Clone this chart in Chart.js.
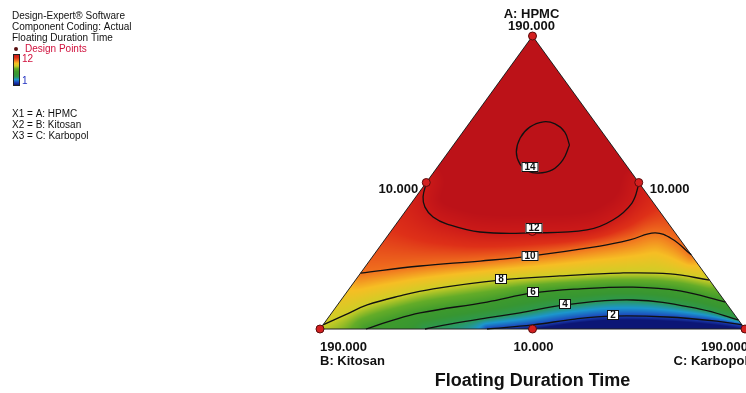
<!DOCTYPE html>
<html>
<head>
<meta charset="utf-8">
<script src="https://cdn.jsdelivr.net/npm/chart.js@4.4.1/dist/chart.umd.min.js"></script>
<style>
  html, body { margin: 0; padding: 0; background: #fff; overflow: hidden; }
  canvas { display: block; }
</style>
</head>
<body>
<canvas id="ternaryChart" width="746" height="393"></canvas>
<script>
// Components and the actual values printed at the vertices / edge midpoints
const componentNames = ['A: HPMC', 'B: Kitosan', 'C: Karbopol'];
const vertexValue = '190.000';
const midValue = '10.000';
const responseName = 'Floating Duration Time';

// Contour lines, each point is [A %, C %] (B = 100 - A - C)
const contourLevels = [14, 12, 10, 8, 6, 4, 2];
const contour14 = [[62.8, 27.3], [67.2, 24.0], [70.0, 20.3], [70.7, 17.2], [68.9, 14.9], [65.2, 14.5], [60.4, 16.0], [56.3, 18.9], [53.9, 22.0], [53.2, 24.7], [54.3, 27.5], [57.7, 28.3], [62.8, 27.3]];
const contour12 = [[50.2, 0], [45.1, 1.7], [41.6, 3.9], [38.2, 7.5], [35.8, 12.0], [33.1, 21.1], [32.8, 33.7], [33.8, 45.9], [37.2, 50.3], [43.0, 51.9], [49.8, 50.2]];
const contour10 = [[19.1, 0], [21.5, 12.8], [23.2, 26.1], [24.9, 37.0], [28.3, 51.7], [30.4, 57.7], [32.8, 62.4], [30.7, 67.5], [25.3, 74.7]];
const contour8 = [[1.4, 0], [4.8, 3.5], [8.2, 7.0], [11.3, 13.2], [13.7, 19.8], [16.7, 34.0], [18.1, 47.4], [19.1, 61.0], [18.8, 73.0], [16.7, 83.3]];
const contour6 = [[0, 10.8], [2.7, 15.1], [5.5, 20.8], [9.2, 34.7], [12.3, 44.0], [13.7, 54.4], [14.3, 66.5], [13.0, 78.2], [9.2, 90.8]];
const contour4 = [[0, 24.7], [1.7, 29.7], [3.8, 37.4], [5.5, 44.3], [8.2, 53.6], [9.9, 68.7], [6.8, 86.0], [3.1, 96.9]];
const contour2 = [[0, 39.3], [1.4, 49.4], [3.4, 58.3], [4.4, 66.7], [4.1, 79.6], [2.7, 92.0], [1.4, 98.6]];
const contourLines = [contour14, contour12, contour10, contour8, contour6, contour4, contour2];

// where the level boxes sit on each contour, [A %, C %]
const labelPoints = [[55.3, 21.8], [34.5, 33.1], [25.0, 36.9], [16.9, 34.1], [12.6, 43.9], [8.5, 53.5], [4.8, 66.6]];

// design points (A %, C %)
const designA = [100, 0, 0, 50, 50, 0, 33.3];
const designC = [0, 0, 100, 0, 50, 50, 33.3];

// colour legend range
const legendHigh = 12;
const legendLow = 1;

const FONT = '"Liberation Sans", Arial, sans-serif';

// ternary -> plot units: x along the base (B to C), y is height (A)
const toXY = ([a, c]) => ({ x: c + a / 2, y: a });

// value -> colour, red at the top of the response, blue at the bottom
const colourStops = [
    [1, [12, 22, 118]],
    [2, [28, 66, 186]],
    [3, [28, 150, 205]],
    [4, [45, 152, 78]],
    [5, [55, 150, 50]],
    [6, [62, 154, 44]],
    [7, [100, 172, 40]],
    [8, [206, 206, 38]],
    [9, [246, 190, 36]],
    [10, [240, 112, 30]],
    [11, [222, 48, 24]],
    [12, [204, 26, 24]],
    [14, [188, 18, 24]]
];

function colourAt(v) {
    if (v <= colourStops[0][0]) return colourStops[0][1];
    for (let i = 1; i < colourStops.length; i++) {
        const [v1, c1] = colourStops[i];
        if (v <= v1) {
            const [v0, c0] = colourStops[i - 1];
            const t = (v - v0) / (v1 - v0);
            return c0.map((c, k) => c + (c1[k] - c) * t);
        }
    }
    return colourStops[colourStops.length - 1][1];
}

function insidePoly(px, py, poly) {
    let inside = false;
    for (let i = 0, j = poly.length - 1; i < poly.length; j = i++) {
        const [xi, yi] = poly[i], [xj, yj] = poly[j];
        if ((yi > py) !== (yj > py) && px < (xj - xi) * (py - yi) / (yj - yi) + xi) inside = !inside;
    }
    return inside;
}

function distToLine(px, py, pts) {
    let best = Infinity;
    for (let i = 0; i < pts.length - 1; i++) {
        const [x1, y1] = pts[i], [x2, y2] = pts[i + 1];
        const dx = x2 - x1, dy = y2 - y1;
        const len = dx * dx + dy * dy;
        let t = len ? ((px - x1) * dx + (py - y1) * dy) / len : 0;
        t = Math.max(0, Math.min(1, t));
        const ex = x1 + t * dx - px, ey = y1 + t * dy - py;
        best = Math.min(best, ex * ex + ey * ey);
    }
    return Math.sqrt(best);
}

// follow the drawn (tensioned) line so the shading meets the strokes
function sampleCurve(points) {
    const out = [];
    for (let i = 0; i < points.length - 1; i++) {
        const p = points[i], q = points[i + 1];
        const c1x = p.cp2x ?? p.x, c1y = p.cp2y ?? p.y;
        const c2x = q.cp1x ?? q.x, c2y = q.cp1y ?? q.y;
        for (let s = 0; s < 10; s++) {
            const t = s / 10, u = 1 - t;
            out.push([
                u * u * u * p.x + 3 * u * u * t * c1x + 3 * u * t * t * c2x + t * t * t * q.x,
                u * u * u * p.y + 3 * u * u * t * c1y + 3 * u * t * t * c2y + t * t * t * q.y
            ]);
        }
    }
    const last = points[points.length - 1];
    out.push([last.x, last.y]);
    return out;
}

function renderField(chart) {
    const { x: sx, y: sy } = chart.scales;
    const area = chart.chartArea;
    const pix = p => { const q = toXY(p); return [sx.getPixelForValue(q.x), sy.getPixelForValue(q.y)]; };
    const pA = pix([100, 0]), pB = pix([0, 0]), pC = pix([0, 100]);
    const tri = [pA, pB, pC];

    // open contours (12 down to 2) with the region above each one
    const bands = [];
    chart.data.datasets.forEach((ds, i) => {
        if (ds.level === undefined || ds.level === 14) return;
        const meta = chart.getDatasetMeta(i);
        meta.dataset.updateControlPoints(area, 'x');
        const pts = sampleCurve(meta.data);
        const poly = pts.slice();
        poly.push(pA);
        if (ds.data[0].y === 0) poly.push(pB);
        bands.push({ level: ds.level, pts, poly });
    });
    bands.sort((a, b) => b.level - a.level);

    const W = chart.width, H = chart.height;
    const off = document.createElement('canvas');
    off.width = W; off.height = H;
    const octx = off.getContext('2d');
    const img = octx.createImageData(W, H);
    const x0 = Math.floor(area.left), x1 = Math.ceil(area.right);
    const y0 = Math.floor(area.top), y1 = Math.ceil(area.bottom);
    for (let py = y0; py <= y1 && py < H; py++) {
        for (let px = x0; px <= x1 && px < W; px++) {
            const X = px + 0.5, Y = py + 0.5;
            if (!insidePoly(X, Y, tri)) continue;
            const k = bands.findIndex(b => insidePoly(X, Y, b.poly));
            let v;
            if (k === 0) {
                const d = distToLine(X, Y, bands[0].pts);
                v = bands[0].level + 2 * Math.min(d / 18, 1);
            } else if (k === -1) {
                const last = bands[bands.length - 1];
                const d = distToLine(X, Y, last.pts);
                v = last.level - Math.min(d / 4, 1);
            } else {
                const hi = bands[k - 1], lo = bands[k];
                const dh = distToLine(X, Y, hi.pts), dl = distToLine(X, Y, lo.pts);
                v = lo.level + (hi.level - lo.level) * dl / (dl + dh);
            }
            const c = colourAt(v);
            const o = (py * W + px) * 4;
            img.data[o] = c[0]; img.data[o + 1] = c[1]; img.data[o + 2] = c[2]; img.data[o + 3] = 255;
        }
    }
    octx.putImageData(img, 0, 0);
    return off;
}

const fieldPlugin = {
    id: 'field',
    beforeDatasetsDraw(chart) {
        if (!chart.$field) chart.$field = renderField(chart);
        chart.ctx.drawImage(chart.$field, 0, 0);
    }
};

const labelPlugin = {
    id: 'levelLabels',
    afterDatasetsDraw(chart) {
        const { ctx, scales: { x, y } } = chart;
        ctx.save();
        ctx.font = 'bold 10px ' + FONT;
        ctx.textAlign = 'center';
        ctx.textBaseline = 'middle';
        labelPoints.forEach((p, i) => {
            const q = toXY(p);
            const cx = Math.round(x.getPixelForValue(q.x)), cy = Math.round(y.getPixelForValue(q.y));
            const text = String(contourLevels[i]);
            const w = Math.round(ctx.measureText(text).width) + 6, h = 10;
            ctx.fillStyle = '#fff';
            ctx.fillRect(cx - w / 2, cy - h / 2, w, h);
            ctx.strokeStyle = '#111';
            ctx.lineWidth = 1;
            ctx.strokeRect(cx - w / 2 + 0.5, cy - h / 2 + 0.5, w - 1, h - 1);
            ctx.fillStyle = '#111';
            ctx.fillText(text, cx, cy + 0.5);
        });
        ctx.restore();
    }
};

const textPlugin = {
    id: 'texts',
    afterDraw(chart) {
        const { ctx, scales: { x, y } } = chart;
        const pix = p => { const q = toXY(p); return [x.getPixelForValue(q.x), y.getPixelForValue(q.y)]; };
        const pA = pix([100, 0]), pB = pix([0, 0]), pC = pix([0, 100]);
        const pAB = pix([50, 0]), pAC = pix([50, 50]), pBC = pix([0, 50]);
        ctx.save();
        ctx.textBaseline = 'middle';

        // info block, top left
        ctx.font = '10px ' + FONT;
        ctx.fillStyle = '#111';
        ctx.textAlign = 'left';
        ctx.fillText('Design-Expert\u00ae Software', 12, 16);
        ctx.fillText('Component Coding: Actual', 12, 27);
        ctx.fillText(responseName, 12, 38);
        ctx.fillStyle = '#5a1010';
        ctx.beginPath();
        ctx.arc(16, 49, 2, 0, Math.PI * 2);
        ctx.fill();
        ctx.fillStyle = '#d0103c';
        ctx.fillText('Design Points', 25, 49);

        // colour bar
        const barTop = 55, barBottom = 85;
        const grad = ctx.createLinearGradient(0, barTop, 0, barBottom);
        colourStops.filter(s => s[0] >= legendLow && s[0] <= legendHigh).forEach(([v, c]) => {
            grad.addColorStop((legendHigh - v) / (legendHigh - legendLow), `rgb(${c.join(',')})`);
        });
        ctx.fillStyle = grad;
        ctx.fillRect(14, barTop, 5, barBottom - barTop);
        ctx.strokeStyle = '#222';
        ctx.lineWidth = 1;
        ctx.strokeRect(13.5, barTop - 0.5, 6, barBottom - barTop + 1);
        ctx.fillStyle = '#d0103c';
        ctx.fillText(String(legendHigh), 22, 59);
        ctx.fillStyle = '#2030c0';
        ctx.fillText(String(legendLow), 22, 81);

        ctx.fillStyle = '#111';
        componentNames.forEach((name, i) => ctx.fillText(`X${i + 1} = ${name}`, 12, 114 + i * 11));

        // vertex and edge values
        ctx.font = 'bold 13px ' + FONT;
        ctx.fillStyle = '#111';
        ctx.textAlign = 'center';
        ctx.fillText(componentNames[0], pA[0] - 1, pA[1] - 22);
        ctx.fillText(vertexValue, pA[0] - 1, pA[1] - 10);
        ctx.textAlign = 'right';
        ctx.fillText(midValue, pAB[0] - 8, pAB[1] + 7);
        ctx.textAlign = 'left';
        ctx.fillText(midValue, pAC[0] + 11, pAC[1] + 7);
        ctx.fillText(vertexValue, pB[0], pB[1] + 18);
        ctx.fillText(componentNames[1], pB[0], pB[1] + 32);
        ctx.textAlign = 'center';
        ctx.fillText(midValue, pBC[0] + 1, pBC[1] + 18);
        ctx.textAlign = 'right';
        ctx.fillText(vertexValue, pC[0] + 3, pC[1] + 18);
        ctx.fillText(componentNames[2], pC[0] + 3, pC[1] + 32);

        // response title
        ctx.font = 'bold 18px ' + FONT;
        ctx.textAlign = 'center';
        ctx.fillText(responseName, pBC[0], 381);
        ctx.restore();
    }
};

const datasets = [
    {
        label: 'Design Points',
        data: designA.map((a, i) => toXY([a, designC[i]])),
        showLine: false,
        pointRadius: 4,
        pointBackgroundColor: '#d42020',
        pointBorderColor: '#5a0c0c',
        pointBorderWidth: 1,
        clip: false
    },
    ...contourLines.map((pts, i) => ({
        label: String(contourLevels[i]),
        level: contourLevels[i],
        data: pts.map(toXY),
        showLine: true,
        borderColor: '#111',
        borderWidth: 1.3,
        pointRadius: 0,
        tension: 0.4,
        fill: false,
        clip: false
    })),
    {
        label: 'outline',
        data: [[100, 0], [0, 0], [0, 100], [100, 0]].map(toXY),
        showLine: true,
        borderColor: '#222',
        borderWidth: 1,
        pointRadius: 0,
        tension: 0,
        clip: false
    }
];

new Chart(document.getElementById('ternaryChart'), {
    type: 'scatter',
    data: { datasets },
    options: {
        responsive: false,
        animation: false,
        events: [],
        layout: { autoPadding: false, padding: { left: 320, right: 1, top: 36, bottom: 64 } },
        scales: {
            x: { display: false, min: 0, max: 100 },
            y: { display: false, min: 0, max: 100 }
        },
        plugins: { legend: { display: false }, tooltip: { enabled: false } }
    },
    plugins: [fieldPlugin, labelPlugin, textPlugin]
});
</script>
</body>
</html>
